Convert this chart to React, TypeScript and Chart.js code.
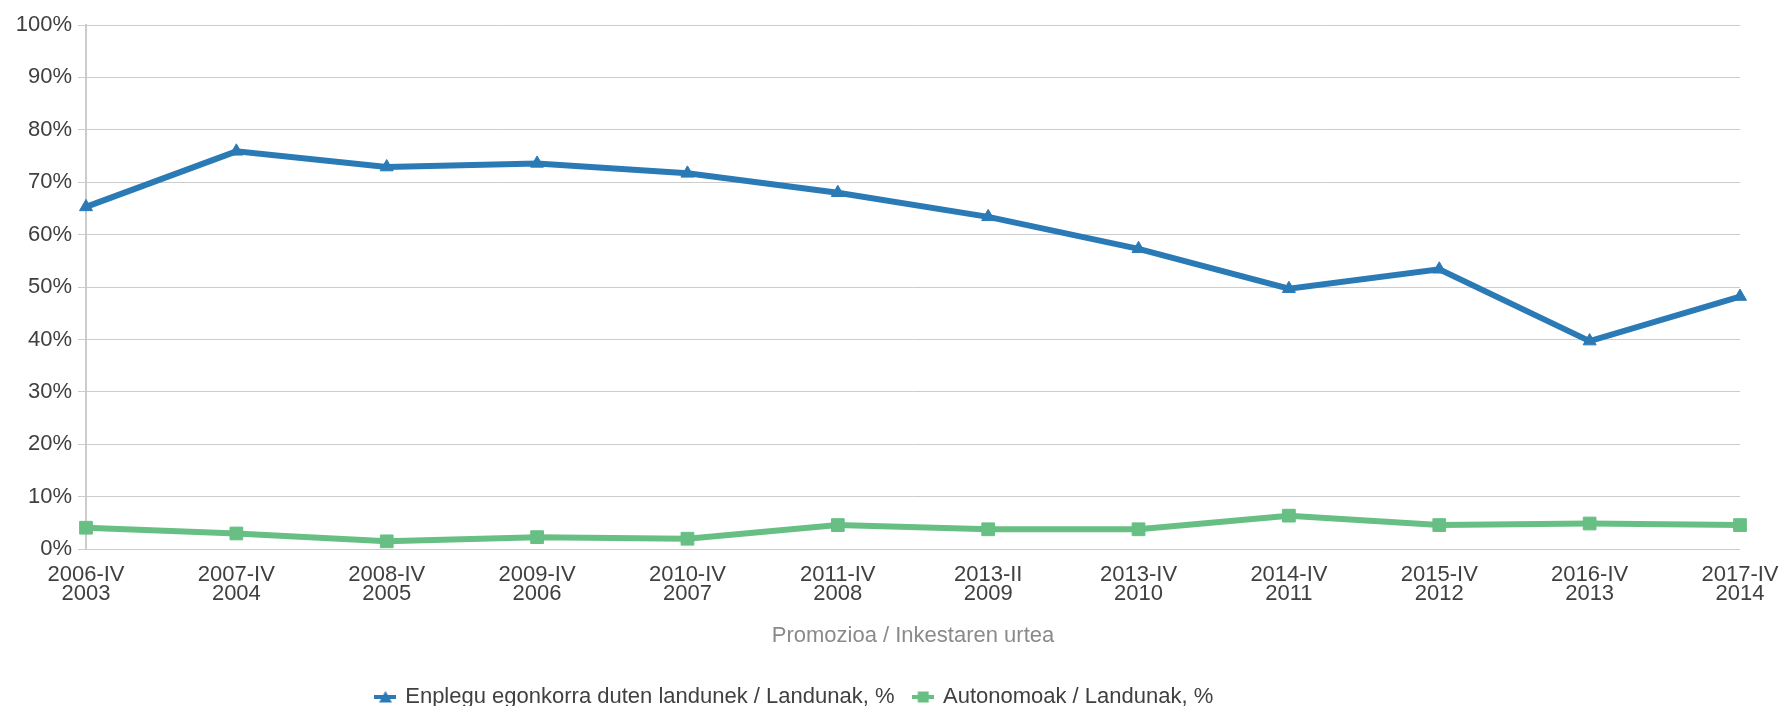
import React, { useEffect, useRef } from "react";
import { Chart, registerables } from "chart.js";

Chart.register(...registerables);

const categories: string[][] = [
  ["2006-IV", "2003"],
  ["2007-IV", "2004"],
  ["2008-IV", "2005"],
  ["2009-IV", "2006"],
  ["2010-IV", "2007"],
  ["2011-IV", "2008"],
  ["2013-II", "2009"],
  ["2013-IV", "2010"],
  ["2014-IV", "2011"],
  ["2015-IV", "2012"],
  ["2016-IV", "2013"],
  ["2017-IV", "2014"],
];

const stableEmployment: number[] = [65.3, 75.9, 72.9, 73.6, 71.7, 68.0, 63.4, 57.3, 49.7, 53.4, 39.7, 48.2];
const selfEmployed: number[] = [4.1, 3.0, 1.5, 2.3, 2.0, 4.6, 3.8, 3.8, 6.4, 4.6, 4.9, 4.6];

const seriesNames: string[] = [
  "Enplegu egonkorra duten landunek / Landunak, %",
  "Autonomoak / Landunak, %",
];
const xTitle = "Promozioa / Inkestaren urtea";

const BLUE = "#2a7ab6";
const GREEN = "#67bf84";
const FONT = "'Liberation Sans', Arial, Helvetica, sans-serif";

function makeLegendIcon(color: string, shape: "triangle" | "square"): HTMLCanvasElement {
  const c = document.createElement("canvas");
  c.width = 22;
  c.height = 14;
  const ctx = c.getContext("2d")!;
  ctx.strokeStyle = color;
  ctx.fillStyle = color;
  ctx.lineWidth = 4;
  ctx.beginPath();
  ctx.moveTo(0, 7);
  ctx.lineTo(22, 7);
  ctx.stroke();
  ctx.beginPath();
  if (shape === "triangle") {
    ctx.moveTo(11, 1);
    ctx.lineTo(17.5, 12.5);
    ctx.lineTo(4.5, 12.5);
    ctx.closePath();
  } else {
    ctx.rect(5.5, 1.5, 11, 11);
  }
  ctx.fill();
  return c;
}

const legendShift = {
  id: "legendShift",
  afterLayout(chart: any) {
    const lg = chart.legend;
    if (!lg) return;
    const desired = 795;
    const cur = (lg.left + lg.right) / 2;
    const d = desired - cur;
    lg.left += d;
    lg.right += d;
  },
};

export default function App() {
  const ref = useRef<HTMLCanvasElement | null>(null);

  useEffect(() => {
    if (!ref.current) return;
    const icons = [makeLegendIcon(BLUE, "triangle"), makeLegendIcon(GREEN, "square")];
    const chart = new Chart(ref.current, {
      type: "line",
      data: {
        labels: categories,
        datasets: [
          {
            label: seriesNames[0],
            data: stableEmployment,
            borderColor: BLUE,
            backgroundColor: BLUE,
            borderWidth: 6,
            pointStyle: "triangle",
            pointRadius: 7.5,
            pointHoverRadius: 7.5,
            pointBorderWidth: 1,
            tension: 0,
            clip: false as any,
          },
          {
            label: seriesNames[1],
            data: selfEmployed,
            borderColor: GREEN,
            backgroundColor: GREEN,
            borderWidth: 6,
            pointStyle: "rect",
            pointRadius: 9,
            pointHoverRadius: 9,
            pointBorderWidth: 1,
            tension: 0,
            clip: false as any,
          },
        ],
      },
      options: {
        responsive: false,
        animation: false,
        layout: { padding: { top: 25, right: 42, left: 0, bottom: -12 } },
        plugins: {
          tooltip: { enabled: false },
          legend: {
            position: "bottom",
            labels: {
              usePointStyle: true,
              pointStyleWidth: 17.5,
              padding: 20,
              color: "#404040",
              font: { family: FONT, size: 22 },
              generateLabels: (ch: any) =>
                ch.data.datasets.map((ds: any, i: number) => ({
                  text: ds.label,
                  fillStyle: ds.backgroundColor,
                  strokeStyle: ds.borderColor,
                  lineWidth: 0,
                  pointStyle: icons[i],
                  hidden: false,
                  datasetIndex: i,
                  fontColor: "#404040",
                })),
            },
          },
        },
        scales: {
          x: {
            afterFit: (s: any) => {
              s.height = 116.8;
              s.paddingRight = 42;
              s.paddingLeft = 40;
            },
            grid: { display: false, drawTicks: false },
            border: { display: false },
            ticks: {
              autoSkip: false,
              maxRotation: 0,
              minRotation: 0,
              padding: 16,
              color: "#404040",
              font: { family: FONT, size: 22, lineHeight: 0.88 },
            },
            title: {
              display: true,
              text: xTitle,
              color: "#8a8a8a",
              font: { family: FONT, size: 22, lineHeight: 1.2 },
              padding: { top: 2, bottom: 16.6 },
            },
          },
          y: {
            min: 0,
            max: 100,
            afterFit: (s: any) => {
              s.width = 86;
            },
            grid: { color: "#cccccc", lineWidth: 1, tickLength: 8, drawTicks: true },
            border: { display: true, color: "#cccccc", width: 2 },
            ticks: {
              stepSize: 10,
              padding: 6,
              color: "#404040",
              font: { family: FONT, size: 22 },
              callback: (v: any) => v + "%",
            },
          },
        },
      },
      plugins: [legendShift],
    });
    return () => chart.destroy();
  }, []);

  return (
    <div style={{ position: "absolute", left: 0, top: 0, width: 1782, height: 706, background: "#fff" }}>
      <canvas ref={ref} width={1782} height={706} style={{ display: "block" }} />
    </div>
  );
}
